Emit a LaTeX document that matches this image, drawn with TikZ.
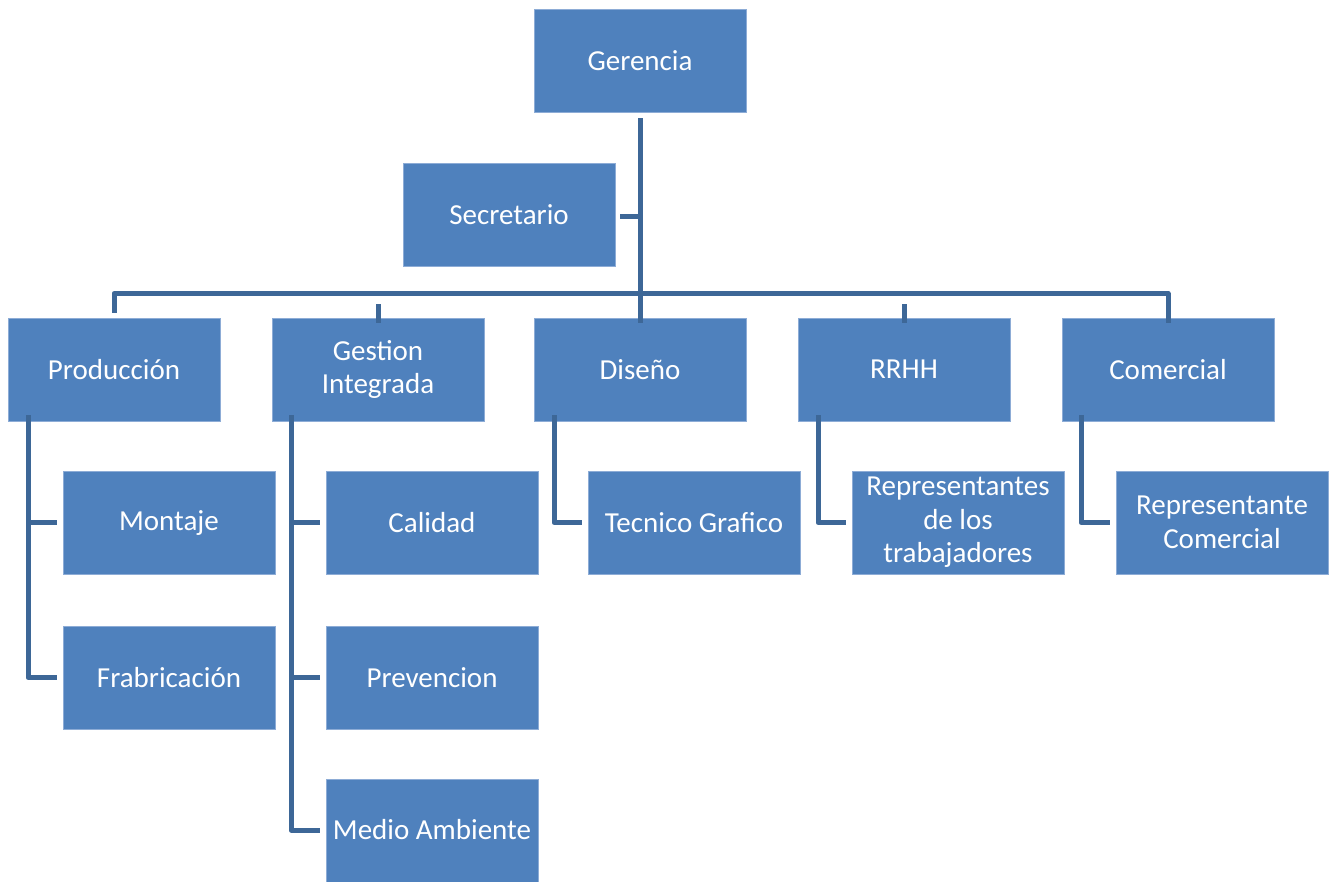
\documentclass[tikz,border=0pt]{standalone}
\usepackage{fontspec}
\setmainfont{Carlito}
\definecolor{boxfill}{HTML}{4F81BD}
\definecolor{boxedge}{HTML}{8DACD6}
\definecolor{linecol}{HTML}{3D6797}
\begin{document}
\begin{tikzpicture}[x=1pt,y=-1pt,
  boxfont/.style={font=\fontsize{29}{33.5}\selectfont},
  orgbox/.style={draw=boxedge,line width=0.8pt,fill=boxfill,text=white,minimum width=212pt,minimum height=103pt,inner sep=0pt,align=center,boxfont},
  conn/.style={draw=linecol,line width=5pt}]
\useasboundingbox (0,0) rectangle (1332,881);
\clip (0,0) rectangle (1332,881);
\fill[white] (0,0) rectangle (1332,881);
% nodes
\node[orgbox] (ger) at (640,60.5) {Gerencia};
\node[orgbox] (sec) at (509,214.5) {Secretario};
\node[orgbox] (prod) at (114,369.5) {Producción};
\node[orgbox] (gest) at (378,369.5) {Gestion\\Integrada};
\node[orgbox] (dis) at (640,369.5) {Diseño};
\node[orgbox] (rrhh) at (904,369.5) {RRHH};
\node[orgbox] (com) at (1168,369.5) {Comercial};
\node[orgbox] (mon) at (169,522.5) {Montaje};
\node[orgbox] (fab) at (169,677.5) {Frabricación};
\node[orgbox] (cal) at (432,522.5) {Calidad};
\node[orgbox] (pre) at (432,677.5) {Prevencion};
\node[orgbox,minimum height=110pt] (med) at (432,834) {};
\node[text=white,boxfont,inner sep=0pt] (medt) at (432,830) {Medio Ambiente};
\node[orgbox] (tec) at (694,522.5) {Tecnico Grafico};
\node[orgbox] (rep) at (958,522.5) {Representantes\\de los\\trabajadores};
\node[orgbox] (rcom) at (1222,522.5) {Representante\\Comercial};
% coordinates
\coordinate (gtop) at (640,118);
\coordinate (gbot) at (640,313);
\coordinate (sj) at (640,216);
% top connectors
\draw[conn] (gtop) -- (gbot);
\draw[conn] ([xshift=5pt]sec.east |- sj) -- (sj);
\draw[conn,line join=round] (prod.north) ++(0,-5) -- ++(0,-19) -| ([yshift=-5pt]com.north);
\foreach \n in {gest,dis,rrhh}{
  \draw[conn] ([yshift=-5pt]\n.north) -- ++(0,-19);
}
% child connectors
\draw[conn,line join=round] ([xshift=-86pt,yshift=6pt]prod.south) |- ([xshift=-6pt]fab.west);
\draw[conn] ([xshift=-86pt]prod.south |- mon.west) -- ([xshift=-6pt]mon.west);
\draw[conn,line join=round] ([xshift=-87pt,yshift=6pt]gest.south) |- ([xshift=-6pt]med.west |- medt);
\draw[conn] ([xshift=-87pt]gest.south |- cal.west) -- ([xshift=-6pt]cal.west);
\draw[conn] ([xshift=-87pt]gest.south |- pre.west) -- ([xshift=-6pt]pre.west);
\draw[conn,line join=round] ([xshift=-86pt,yshift=6pt]dis.south) |- ([xshift=-6pt]tec.west);
\draw[conn,line join=round] ([xshift=-86pt,yshift=6pt]rrhh.south) |- ([xshift=-6pt]rep.west);
\draw[conn,line join=round] ([xshift=-87pt,yshift=6pt]com.south) |- ([xshift=-6pt]rcom.west);
\end{tikzpicture}
\end{document}
